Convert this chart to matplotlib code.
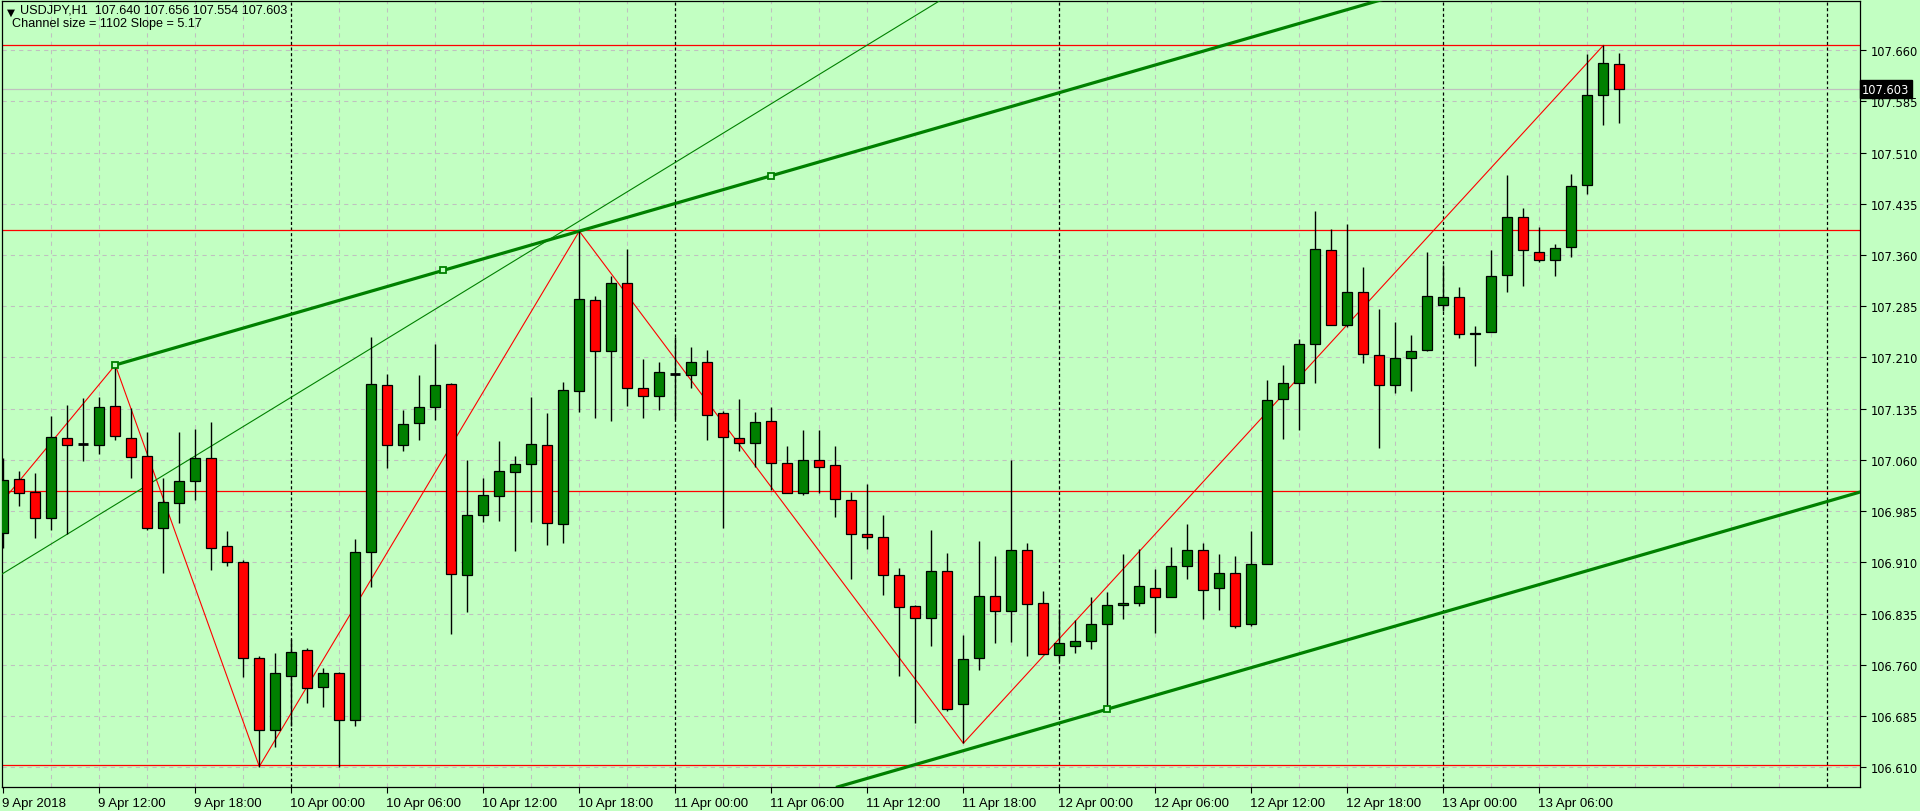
import matplotlib.pyplot as plt
import matplotlib.transforms as mtransforms
import numpy as np

# USDJPY H1, bar 0 = 9 Apr 2018 06:00, one bar per hour
opens = [106.953, 107.032, 107.013, 106.975, 107.092, 107.083, 107.082, 107.139, 107.092, 107.066,
         106.960, 106.997, 107.029, 107.063, 106.934, 106.911, 106.770, 106.665, 106.743, 106.782,
         106.728, 106.748, 106.679, 106.925, 107.169, 107.082, 107.114, 107.137, 107.171, 106.892,
         106.979, 107.007, 107.042, 107.054, 107.082, 106.966, 107.161, 107.294, 107.219, 107.319,
         107.166, 107.153, 107.186, 107.185, 107.203, 107.128, 107.092, 107.085, 107.117, 107.056,
         107.012, 107.060, 107.052, 107.001, 106.951, 106.947, 106.892, 106.846, 106.829, 106.898,
         106.702, 106.770, 106.861, 106.839, 106.928, 106.850, 106.775, 106.787, 106.795, 106.820,
         106.847, 106.850, 106.873, 106.859, 106.904, 106.928, 106.872, 106.895, 106.819, 106.908,
         107.149, 107.172, 107.230, 107.368, 107.258, 107.306, 107.213, 107.170, 107.209, 107.221,
         107.287, 107.298, 107.244, 107.247, 107.331, 107.416, 107.364, 107.353, 107.372, 107.462,
         107.594, 107.640]
highs = [107.063, 107.044, 107.041, 107.125, 107.141, 107.150, 107.152, 107.199, 107.136, 107.101,
         107.033, 107.101, 107.105, 107.116, 106.956, 106.914, 106.773, 106.777, 106.798, 106.784,
         106.755, 106.750, 106.944, 107.240, 107.186, 107.133, 107.184, 107.229, 107.172, 107.060,
         107.033, 107.087, 107.066, 107.152, 107.128, 107.174, 107.395, 107.300, 107.330, 107.369,
         107.208, 107.203, 107.240, 107.225, 107.221, 107.132, 107.149, 107.130, 107.137, 107.081,
         107.104, 107.104, 107.081, 107.013, 107.024, 106.980, 106.901, 106.848, 106.957, 106.923,
         106.803, 106.941, 106.919, 107.060, 106.938, 106.868, 106.842, 106.825, 106.859, 106.867,
         106.922, 106.930, 106.900, 106.933, 106.966, 106.938, 106.922, 106.920, 106.956, 107.177,
         107.199, 107.237, 107.424, 107.398, 107.406, 107.342, 107.281, 107.262, 107.243, 107.365,
         107.345, 107.313, 107.256, 107.368, 107.477, 107.429, 107.401, 107.376, 107.479, 107.655,
         107.667, 107.656]
lows = [106.931, 106.993, 106.946, 106.957, 106.952, 107.059, 107.068, 107.089, 107.033, 106.958,
        106.895, 106.968, 107.002, 106.899, 106.905, 106.742, 106.611, 106.640, 106.671, 106.704,
        106.698, 106.611, 106.671, 106.874, 107.048, 107.073, 107.089, 107.119, 106.805, 106.837,
        106.969, 106.970, 106.926, 106.969, 106.935, 106.938, 107.130, 107.121, 107.117, 107.139,
        107.121, 107.133, 107.120, 107.165, 107.089, 106.960, 107.073, 107.050, 107.016, 107.012,
        107.009, 107.011, 106.977, 106.886, 106.930, 106.862, 106.743, 106.674, 106.788, 106.693,
        106.645, 106.753, 106.792, 106.793, 106.773, 106.776, 106.766, 106.777, 106.783, 106.695,
        106.827, 106.846, 106.807, 106.859, 106.885, 106.827, 106.840, 106.814, 106.817, 106.908,
        107.090, 107.104, 107.173, 107.257, 107.255, 107.202, 107.077, 107.158, 107.161, 107.220,
        107.278, 107.238, 107.198, 107.247, 107.306, 107.314, 107.350, 107.329, 107.357, 107.449,
        107.551, 107.554]
closes = [107.031, 107.011, 106.975, 107.094, 107.082, 107.083, 107.138, 107.095, 107.064, 106.961,
          106.998, 107.029, 107.063, 106.931, 106.911, 106.770, 106.665, 106.748, 106.778, 106.726,
          106.748, 106.679, 106.925, 107.171, 107.082, 107.113, 107.137, 107.169, 106.893, 106.979,
          107.008, 107.044, 107.054, 107.084, 106.968, 107.163, 107.295, 107.220, 107.319, 107.166,
          107.153, 107.188, 107.186, 107.203, 107.126, 107.094, 107.085, 107.116, 107.055, 107.012,
          107.060, 107.050, 107.003, 106.951, 106.947, 106.891, 106.845, 106.829, 106.898, 106.695,
          106.769, 106.861, 106.839, 106.928, 106.849, 106.776, 106.792, 106.795, 106.820, 106.847,
          106.851, 106.875, 106.859, 106.904, 106.928, 106.870, 106.894, 106.817, 106.908, 107.148,
          107.173, 107.229, 107.369, 107.258, 107.306, 107.215, 107.170, 107.209, 107.219, 107.300,
          107.298, 107.244, 107.246, 107.329, 107.416, 107.367, 107.353, 107.370, 107.461, 107.594,
          107.641, 107.603]

# zigzag pivots (bar, price)
zz_bars = [-3, 7, 16, 36, 60, 100]
zz_prices = [106.916, 107.199, 106.611, 107.395, 106.645, 107.667]

# horizontal levels
levels = [107.667, 107.396, 107.014, 106.613]

# channel anchors
upper_a = (7, 107.199)
upper_b = (36, 107.395)
upper_marks = [7, 27.5, 48]
lower_anchor = (69, 106.695)
thin_a = (0, 106.894)
thin_b = (40, 107.467)

price_ticks = ['106.610', '106.685', '106.760', '106.835', '106.910', '106.985', '107.060',
               '107.135', '107.210', '107.285', '107.360', '107.435', '107.510', '107.585', '107.660']
time_labels = ['9 Apr 2018', '9 Apr 12:00', '9 Apr 18:00', '10 Apr 00:00', '10 Apr 06:00',
               '10 Apr 12:00', '10 Apr 18:00', '11 Apr 00:00', '11 Apr 06:00', '11 Apr 12:00',
               '11 Apr 18:00', '12 Apr 00:00', '12 Apr 06:00', '12 Apr 12:00', '12 Apr 18:00',
               '13 Apr 00:00', '13 Apr 06:00']
time_label_bars = [0] + list(range(6, 97, 6))
day_bars = [18, 42, 66, 90, 114]
last_price = 107.603
header = 'USDJPY,H1  107.640 107.656 107.554 107.603'
info = 'Channel size = 1102 Slope = 5.17'

BG = '#C2FFC2'
GREEN = '#008000'
RED = '#FF0000'

fig = plt.figure(figsize=(19.2, 8.12), dpi=100)
fig.set_facecolor(BG)
ax = fig.add_axes([2 / 1920, 24 / 812, 1858 / 1920, 786 / 812])
ax.set_facecolor(BG)
ax.set_xlim(-0.08, 116.04)
ax.set_ylim(106.581, 107.732)

# grid
tick_vals = [float(t) for t in price_ticks]
for p in tick_vals:
    ax.axhline(p, color='#C0C0C0', lw=0.75, ls=(0, (4, 4)), zorder=0)
for b in range(3, 117, 3):
    if b in day_bars:
        continue
    ax.axvline(b, color='#C0C0C0', lw=0.75, ls=(0, (4, 4)), zorder=0)
for b in day_bars:
    ax.axvline(b, color='black', lw=0.9, ls=(0, (2.5, 2)), zorder=1)

# bid line
ax.axhline(last_price, color='#C0C0C0', lw=0.9, zorder=1)

# horizontal levels and zigzag
for lv in levels:
    ax.axhline(lv, color=RED, lw=0.9, zorder=2)
ax.plot(zz_bars, zz_prices, color=RED, lw=0.8, zorder=2)

# channel
slope = (upper_b[1] - upper_a[1]) / (upper_b[0] - upper_a[0])
ray_x = np.array([upper_a[0], 130])
ax.plot(ray_x, upper_a[1] + slope * (ray_x - upper_a[0]), color=GREEN, lw=2.3, zorder=3,
        solid_capstyle='butt')
ax.axline(lower_anchor, slope=slope, color=GREEN, lw=2.3, zorder=3)
ax.axline(thin_a, thin_b, color=GREEN, lw=0.8, zorder=3)
mx = np.array(upper_marks)
ax.plot(mx, upper_a[1] + slope * (mx - upper_a[0]), ls='none', marker='s', ms=4.5,
        mfc=BG, mec=GREEN, mew=1.3, zorder=6)
ax.plot([lower_anchor[0]], [lower_anchor[1]], ls='none', marker='s', ms=4.5,
        mfc=BG, mec=GREEN, mew=1.3, zorder=6)

# candles
x = np.arange(len(opens))
o = np.array(opens)
c = np.array(closes)
ax.vlines(x, lows, highs, color='black', lw=1.0, zorder=4)
up = c > o
down = c < o
flat = c == o
w = 0.62
ax.bar(x[up], c[up] - o[up], bottom=o[up], width=w, color=GREEN, edgecolor='black',
       linewidth=0.9, zorder=5)
ax.bar(x[down], o[down] - c[down], bottom=c[down], width=w, color=RED, edgecolor='black',
       linewidth=0.9, zorder=5)
ax.hlines(c[flat], x[flat] - w / 2, x[flat] + w / 2, color='black', lw=2, zorder=5)

# axes style
for s in ax.spines.values():
    s.set_color('black')
    s.set_linewidth(0.9)
ax.yaxis.tick_right()
ax.set_yticks(tick_vals)
ax.set_yticklabels(price_ticks, fontsize=8.3, family='DejaVu Sans')
ax.tick_params(axis='y', direction='out', length=4, width=0.8, pad=3.5, colors='black')
ax.set_xticks(time_label_bars)
ax.set_xticklabels(time_labels, ha='left', fontsize=9.5,
                   family=['Liberation Sans Narrow', 'Liberation Sans', 'DejaVu Sans'])
ax.tick_params(axis='x', direction='out', length=4, width=0.8, pad=3, colors='black')
for lbl in ax.get_xticklabels():
    lbl.set_transform(lbl.get_transform() + mtransforms.ScaledTranslation(-1 / 100, 0, fig.dpi_scale_trans))

# last price tag
trans = mtransforms.blended_transform_factory(ax.transAxes, ax.transData)
ax.text(1.0012, last_price, '107.603', transform=trans, ha='left', va='center', fontsize=8.3,
        family='DejaVu Sans', color='white', zorder=10, clip_on=False,
        bbox=dict(boxstyle='square,pad=0.2', fc='black', ec='black'))

# header
fig.text(10.5 / 1920, 1 - 12.5 / 812, '\u25bc', ha='center', va='center', fontsize=7.5,
         family='DejaVu Sans', color='black')
fig.text(20.5 / 1920, 1 - 4.5 / 812, header, ha='left', va='top', fontsize=9.1,
         family=['Liberation Sans', 'DejaVu Sans'], color='black')
fig.text(12 / 1920, 1 - 18.5 / 812, info, ha='left', va='top', fontsize=9.1,
         family=['Liberation Sans', 'DejaVu Sans'], color='black')

fig.savefig('out.png', dpi=100, facecolor=BG)
